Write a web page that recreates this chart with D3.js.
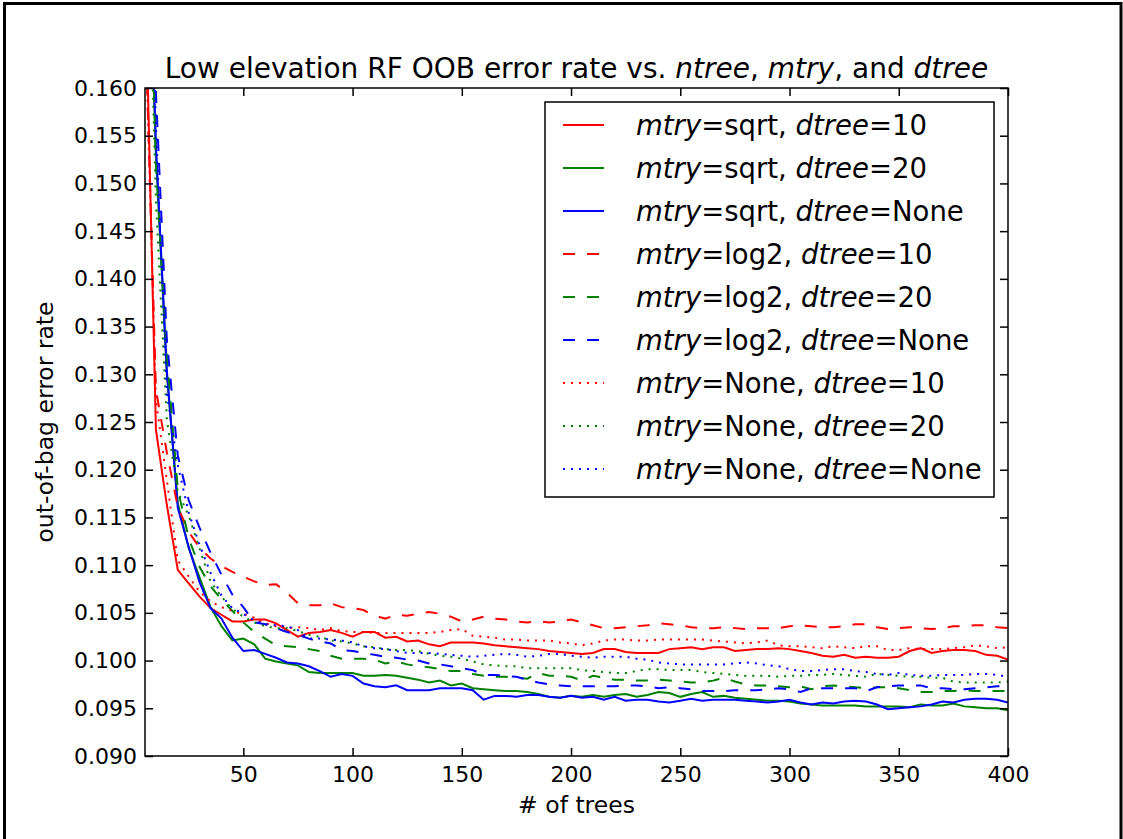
<!DOCTYPE html>
<html>
<head>
<meta charset="utf-8">
<script src="https://cdn.jsdelivr.net/npm/d3@7"></script>
<style>
  body { margin: 0; background: #fff; }
  svg { font-family: "DejaVu Sans", sans-serif; }
</style>
</head>
<body>
<div id="container"></div>
<script>
/* CONSTANTS AND GLOBALS */
const width = 1123,
  height = 839,
  margin = { top: 88, right: 115, bottom: 83, left: 145 };

/* DATA */
const ntree = [5, 10, 15, 20, 25, 30, 35, 40, 45, 50, 55, 60, 65, 70, 75, 80, 85, 90, 95, 100,
  105, 110, 115, 120, 125, 130, 135, 140, 145, 150, 155, 160, 165, 170, 175, 180, 185, 190, 195, 200,
  205, 210, 215, 220, 225, 230, 235, 240, 245, 250, 255, 260, 265, 270, 275, 280, 285, 290, 295, 300,
  305, 310, 315, 320, 325, 330, 335, 340, 345, 350, 355, 360, 365, 370, 375, 380, 385, 390, 395, 400];

const sqrt10 = [0.173, 0.1242, 0.1163, 0.1095, 0.1081, 0.1067, 0.1055, 0.1048, 0.1041, 0.1041,
  0.1043, 0.1043, 0.1039, 0.1032, 0.1025, 0.1029, 0.1030, 0.1032, 0.1029, 0.1025,
  0.1030, 0.1030, 0.1024, 0.1025, 0.1020, 0.1021, 0.1017, 0.1015, 0.1019, 0.1019,
  0.1019, 0.1018, 0.1016, 0.1015, 0.1014, 0.1013, 0.1012, 0.1010, 0.1009, 0.1008,
  0.1007, 0.1008, 0.1012, 0.1012, 0.1009, 0.1008, 0.1008, 0.1008, 0.1012, 0.1013,
  0.1014, 0.1012, 0.1014, 0.1014, 0.1010, 0.1011, 0.1012, 0.1012, 0.1013, 0.1012,
  0.1010, 0.1008, 0.1005, 0.1004, 0.1006, 0.1003, 0.1004, 0.1003, 0.1003, 0.1004,
  0.1010, 0.1013, 0.1008, 0.1010, 0.1011, 0.1011, 0.1010, 0.1006, 0.1005, 0.1001];

const sqrt20 = [0.190, 0.1530, 0.1300, 0.1165, 0.1118, 0.1087, 0.1056, 0.1036, 0.1021, 0.1023,
  0.1017, 0.1002, 0.0999, 0.0997, 0.0995, 0.0988, 0.0987, 0.0987, 0.0987, 0.0987,
  0.0984, 0.0984, 0.0985, 0.0984, 0.0982, 0.0980, 0.0977, 0.0979, 0.0974, 0.0976,
  0.0971, 0.0970, 0.0969, 0.0968, 0.0968, 0.0967, 0.0965, 0.0962, 0.0961, 0.0963,
  0.0962, 0.0964, 0.0962, 0.0964, 0.0965, 0.0962, 0.0964, 0.0967, 0.0966, 0.0962,
  0.0965, 0.0967, 0.0962, 0.0963, 0.0961, 0.0960, 0.0959, 0.0958, 0.0958, 0.0957,
  0.0955, 0.0954, 0.0953, 0.0953, 0.0953, 0.0953, 0.0952, 0.0952, 0.0952, 0.0952,
  0.0951, 0.0954, 0.0953, 0.0953, 0.0955, 0.0952, 0.0951, 0.0950, 0.0950, 0.0948];

const sqrtNone = [0.190, 0.1540, 0.1304, 0.1160, 0.1119, 0.1082, 0.1055, 0.1044, 0.1024, 0.1010,
  0.1011, 0.1007, 0.1003, 0.0998, 0.0997, 0.0994, 0.0989, 0.0983, 0.0986, 0.0984,
  0.0976, 0.0973, 0.0972, 0.0974, 0.0969, 0.0969, 0.0969, 0.0971, 0.0971, 0.0971,
  0.0969, 0.0959, 0.0963, 0.0963, 0.0962, 0.0964, 0.0964, 0.0962, 0.0961, 0.0963,
  0.0961, 0.0962, 0.0959, 0.0962, 0.0958, 0.0959, 0.0959, 0.0957, 0.0956, 0.0958,
  0.0960, 0.0958, 0.0959, 0.0959, 0.0959, 0.0958, 0.0957, 0.0956, 0.0957, 0.0959,
  0.0956, 0.0954, 0.0956, 0.0955, 0.0957, 0.0958, 0.0957, 0.0954, 0.0949, 0.0950,
  0.0951, 0.0952, 0.0954, 0.0957, 0.0956, 0.0959, 0.0960, 0.0960, 0.0959, 0.0956];

const log2_10 = [0.168, 0.1284, 0.1218, 0.1161, 0.1135, 0.1118, 0.1107, 0.1099, 0.1093, 0.1088,
  0.1083, 0.1079, 0.1080, 0.1071, 0.1060, 0.1058, 0.1058, 0.1060, 0.1056, 0.1055,
  0.1053, 0.1047, 0.1044, 0.1048, 0.1047, 0.1049, 0.1051, 0.1049, 0.1046, 0.1041,
  0.1043, 0.1046, 0.1044, 0.1043, 0.1041, 0.1040, 0.1041, 0.1040, 0.1041, 0.1043,
  0.1040, 0.1037, 0.1034, 0.1034, 0.1035, 0.1036, 0.1037, 0.1039, 0.1038, 0.1037,
  0.1035, 0.1034, 0.1034, 0.1035, 0.1034, 0.1033, 0.1034, 0.1034, 0.1034, 0.1036,
  0.1037, 0.1036, 0.1035, 0.1035, 0.1036, 0.1038, 0.1038, 0.1035, 0.1033, 0.1034,
  0.1035, 0.1034, 0.1033, 0.1034, 0.1036, 0.1036, 0.1037, 0.1037, 0.1035, 0.1034];

const log2_20 = [0.195, 0.1520, 0.1320, 0.1180, 0.1128, 0.1098, 0.1078, 0.1064, 0.1052, 0.1040,
  0.1030, 0.1023, 0.1016, 0.1015, 0.1014, 0.1012, 0.1010, 0.1005, 0.1002, 0.1002,
  0.1002, 0.1001, 0.0997, 0.0999, 0.0996, 0.0994, 0.0993, 0.0991, 0.0989, 0.0989,
  0.0986, 0.0984, 0.0983, 0.0983, 0.0982, 0.0981, 0.0987, 0.0984, 0.0984, 0.0983,
  0.0979, 0.0984, 0.0982, 0.0980, 0.0980, 0.0979, 0.0979, 0.0980, 0.0979, 0.0978,
  0.0977, 0.0977, 0.0979, 0.0982, 0.0978, 0.0975, 0.0974, 0.0974, 0.0973, 0.0972,
  0.0973, 0.0970, 0.0973, 0.0974, 0.0973, 0.0972, 0.0971, 0.0972, 0.0972, 0.0971,
  0.0969, 0.0967, 0.0967, 0.0968, 0.0968, 0.0969, 0.0968, 0.0968, 0.0968, 0.0968];

const log2None = [0.215, 0.1595, 0.1336, 0.1215, 0.1168, 0.1139, 0.1113, 0.1090, 0.1069, 0.1056,
  0.1040, 0.1038, 0.1034, 0.1030, 0.1027, 0.1023, 0.1020, 0.1018, 0.1011, 0.1010,
  0.1008, 0.1006, 0.1004, 0.1003, 0.1001, 0.1000, 0.0997, 0.0996, 0.0994, 0.0992,
  0.0990, 0.0985, 0.0985, 0.0984, 0.0983, 0.0980, 0.0977, 0.0975, 0.0974, 0.0973,
  0.0973, 0.0973, 0.0973, 0.0973, 0.0974, 0.0974, 0.0973, 0.0971, 0.0972, 0.0971,
  0.0970, 0.0968, 0.0968, 0.0968, 0.0969, 0.0969, 0.0969, 0.0970, 0.0971, 0.0970,
  0.0967, 0.0971, 0.0971, 0.0971, 0.0971, 0.0971, 0.0968, 0.0972, 0.0973, 0.0974,
  0.0974, 0.0974, 0.0971, 0.0971, 0.0970, 0.0970, 0.0971, 0.0972, 0.0973, 0.0973];

const none10 = [0.168, 0.1273, 0.1189, 0.1105, 0.1088, 0.1072, 0.1062, 0.1056, 0.1052, 0.1049,
  0.1045, 0.1039, 0.1036, 0.1034, 0.1035, 0.1034, 0.1032, 0.1034, 0.1031, 0.1030,
  0.1030, 0.1029, 0.1029, 0.1029, 0.1029, 0.1029, 0.1029, 0.1030, 0.1032, 0.1033,
  0.1026, 0.1025, 0.1024, 0.1022, 0.1022, 0.1021, 0.1021, 0.1021, 0.1019, 0.1018,
  0.1016, 0.1018, 0.1021, 0.1022, 0.1022, 0.1021, 0.1021, 0.1022, 0.1022, 0.1022,
  0.1022, 0.1022, 0.1021, 0.1020, 0.1019, 0.1018, 0.1019, 0.1021, 0.1016, 0.1015,
  0.1015, 0.1014, 0.1013, 0.1015, 0.1014, 0.1013, 0.1015, 0.1015, 0.1011, 0.1011,
  0.1013, 0.1012, 0.1012, 0.1012, 0.1013, 0.1014, 0.1016, 0.1015, 0.1013, 0.1014];

const none20 = [0.190, 0.1481, 0.1252, 0.1177, 0.1152, 0.1117, 0.1083, 0.1067, 0.1054, 0.1046,
  0.1040, 0.1036, 0.1034, 0.1034, 0.1031, 0.1027, 0.1025, 0.1021, 0.1020, 0.1018,
  0.1015, 0.1014, 0.1012, 0.1011, 0.1011, 0.1010, 0.1007, 0.1005, 0.1004, 0.1002,
  0.0999, 0.0996, 0.0995, 0.0994, 0.0994, 0.0992, 0.0992, 0.0992, 0.0992, 0.0992,
  0.0990, 0.0989, 0.0988, 0.0987, 0.0987, 0.0989, 0.0991, 0.0991, 0.0990, 0.0990,
  0.0990, 0.0988, 0.0987, 0.0986, 0.0985, 0.0984, 0.0984, 0.0984, 0.0983, 0.0984,
  0.0984, 0.0985, 0.0985, 0.0986, 0.0985, 0.0984, 0.0983, 0.0986, 0.0985, 0.0984,
  0.0983, 0.0983, 0.0982, 0.0982, 0.0978, 0.0977, 0.0977, 0.0977, 0.0977, 0.0978];

const noneNone = [0.200, 0.1560, 0.1280, 0.1205, 0.1155, 0.1121, 0.1092, 0.1068, 0.1055, 0.1049,
  0.1042, 0.1038, 0.1037, 0.1036, 0.1032, 0.1023, 0.1023, 0.1022, 0.1021, 0.1019,
  0.1015, 0.1013, 0.1012, 0.1010, 0.1008, 0.1008, 0.1008, 0.1007, 0.1006, 0.1005,
  0.1004, 0.1005, 0.1006, 0.1007, 0.1006, 0.1004, 0.1005, 0.1007, 0.1007, 0.1005,
  0.1004, 0.1003, 0.1004, 0.1004, 0.1004, 0.1002, 0.1001, 0.0998, 0.0997, 0.0996,
  0.0996, 0.0996, 0.0996, 0.0996, 0.0997, 0.0998, 0.0997, 0.0995, 0.0994, 0.0991,
  0.0989, 0.0989, 0.0990, 0.0991, 0.0991, 0.0989, 0.0988, 0.0986, 0.0985, 0.0987,
  0.0985, 0.0984, 0.0984, 0.0985, 0.0985, 0.0985, 0.0986, 0.0986, 0.0985, 0.0983];

const mtryLabels = ["sqrt", "sqrt", "sqrt", "log2", "log2", "log2", "None", "None", "None"];
const dtreeLabels = ["10", "20", "None", "10", "20", "None", "10", "20", "None"];
const seriesValues = [sqrt10, sqrt20, sqrtNone, log2_10, log2_20, log2None, none10, none20, noneNone];
const colors = ["#ff0000", "#008000", "#0000ff"];
const dashes = [null, "12,12", "2,6"];

const yTicks = [0.090, 0.095, 0.100, 0.105, 0.110, 0.115, 0.120, 0.125, 0.130, 0.135,
  0.140, 0.145, 0.150, 0.155, 0.160];
const xTicks = [50, 100, 150, 200, 250, 300, 350, 400];

const series = seriesValues.map((vals, i) => ({
  mtry: mtryLabels[i],
  dtree: dtreeLabels[i],
  color: colors[i % 3],
  dash: dashes[Math.floor(i / 3)],
  points: ntree.map((n, j) => ({ n: n, v: vals[j] }))
}));

/* SCALES */
const xScale = d3.scaleLinear()
  .domain([5, 400])
  .range([margin.left, width - margin.right]);

const yScale = d3.scaleLinear()
  .domain([0.09, 0.16])
  .range([height - margin.bottom, margin.top]);

const svg = d3.select("#container").append("svg")
  .attr("width", width)
  .attr("height", height);

// outer frame
svg.append("rect")
  .attr("x", 4.5)
  .attr("y", 3.5)
  .attr("width", 1116.5)
  .attr("height", 860)
  .attr("fill", "none")
  .attr("stroke", "#000")
  .attr("stroke-width", 3);

svg.append("clipPath")
  .attr("id", "plot-clip")
  .append("rect")
  .attr("x", margin.left)
  .attr("y", margin.top)
  .attr("width", width - margin.left - margin.right)
  .attr("height", height - margin.top - margin.bottom);

/* LINES */
const line = d3.line()
  .x(d => xScale(d.n))
  .y(d => yScale(d.v));

svg.append("g")
  .attr("clip-path", "url(#plot-clip)")
  .selectAll(".line")
  .data(series)
  .join("path")
  .attr("class", "line")
  .attr("fill", "none")
  .attr("stroke", d => d.color)
  .attr("stroke-width", 2)
  .attr("stroke-dasharray", d => d.dash)
  .attr("d", d => line(d.points));

/* AXES */
const tickFont = 22;

function styleAxis(g) {
  g.select(".domain").remove();
  g.selectAll(".tick line").attr("stroke", "#000").attr("stroke-width", 1.5);
  g.selectAll(".tick text")
    .attr("fill", "#000")
    .style("font-size", tickFont + "px")
    .style("font-family", "DejaVu Sans");
}

svg.append("g")
  .attr("transform", `translate(0,${height - margin.bottom})`)
  .call(d3.axisBottom(xScale).tickValues(xTicks).tickSizeInner(-8).tickSizeOuter(0).tickPadding(10))
  .call(styleAxis);

svg.append("g")
  .attr("transform", `translate(0,${margin.top})`)
  .call(d3.axisTop(xScale).tickValues(xTicks).tickSizeInner(-8).tickSizeOuter(0).tickFormat(""))
  .call(styleAxis);

svg.append("g")
  .attr("transform", `translate(${margin.left},0)`)
  .call(d3.axisLeft(yScale).tickValues(yTicks).tickSizeInner(-8).tickSizeOuter(0)
    .tickPadding(8).tickFormat(d3.format(".3f")))
  .call(styleAxis);

svg.append("g")
  .attr("transform", `translate(${width - margin.right},0)`)
  .call(d3.axisRight(yScale).tickValues(yTicks).tickSizeInner(-8).tickSizeOuter(0).tickFormat(""))
  .call(styleAxis);

// spines
svg.append("rect")
  .attr("x", margin.left)
  .attr("y", margin.top)
  .attr("width", width - margin.left - margin.right)
  .attr("height", height - margin.top - margin.bottom)
  .attr("fill", "none")
  .attr("stroke", "#000")
  .attr("stroke-width", 1.5);

/* TEXT */
const title = svg.append("text")
  .attr("x", (margin.left + width - margin.right) / 2)
  .attr("y", 78)
  .attr("text-anchor", "middle")
  .style("font-size", "28px");
[["Low elevation RF OOB error rate vs. ", false], ["ntree", true], [", ", false],
  ["mtry", true], [", and ", false], ["dtree", true]].forEach(([t, it]) => {
  title.append("tspan").text(t).style("font-style", it ? "italic" : "normal");
});

svg.append("text")
  .attr("x", (margin.left + width - margin.right) / 2)
  .attr("y", 813)
  .attr("text-anchor", "middle")
  .style("font-size", "23.5px")
  .text("# of trees");

svg.append("text")
  .attr("transform", `translate(53,${(margin.top + height - margin.bottom) / 2}) rotate(-90)`)
  .attr("text-anchor", "middle")
  .style("font-size", "23.5px")
  .text("out-of-bag error rate");

/* LEGEND */
const legend = svg.append("g");
legend.append("rect")
  .attr("x", 545)
  .attr("y", 102)
  .attr("width", 449)
  .attr("height", 395)
  .attr("fill", "#fff")
  .attr("stroke", "#000")
  .attr("stroke-width", 1.5);

const rows = legend.selectAll(".row")
  .data(series)
  .join("g")
  .attr("class", "row")
  .attr("transform", (d, i) => `translate(0,${125 + i * 43})`);

rows.append("line")
  .attr("x1", 563)
  .attr("x2", 604)
  .attr("stroke", d => d.color)
  .attr("stroke-width", 2)
  .attr("stroke-dasharray", d => d.dash);

rows.each(function(d) {
  const t = d3.select(this).append("text")
    .attr("x", 636)
    .attr("y", 10)
    .style("font-size", "27.5px");
  t.append("tspan").text("mtry").style("font-style", "italic");
  t.append("tspan").text("=" + d.mtry + ", ");
  t.append("tspan").text("dtree").style("font-style", "italic");
  t.append("tspan").text("=" + d.dtree);
});
</script>
</body>
</html>
